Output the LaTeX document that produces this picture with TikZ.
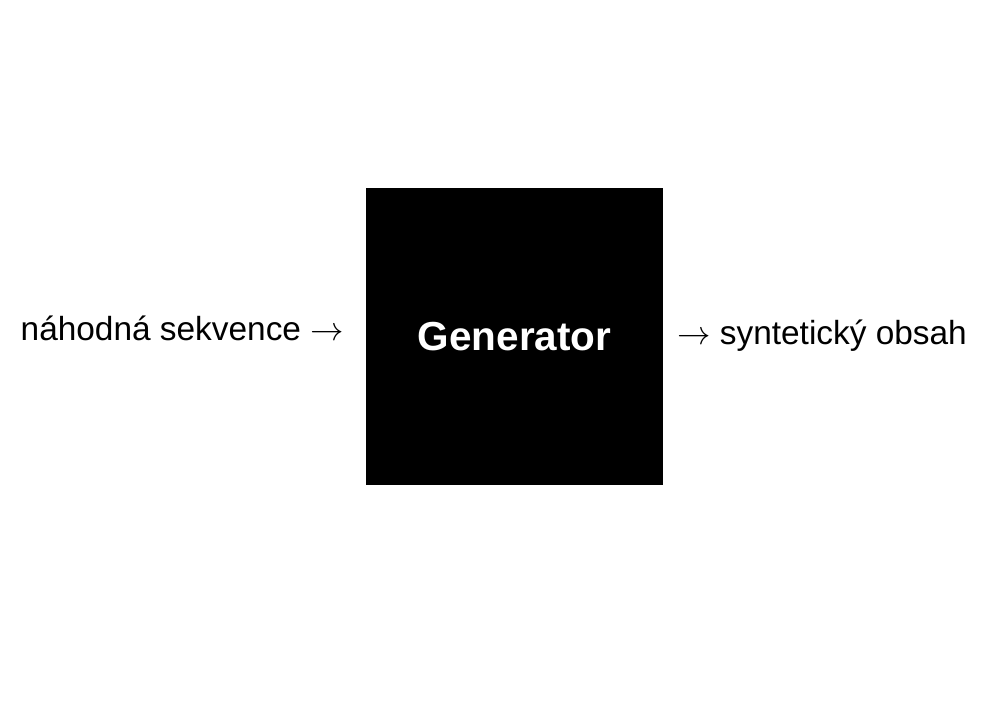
\RequirePackage{fix-cm}
\documentclass[tikz,border=0pt]{standalone}
\usepackage{fontspec}
\setmainfont{Liberation Sans}
\usetikzlibrary{positioning}

\begin{document}
\begin{tikzpicture}[
  x=1pt, y=1pt,
  genbox/.style = {
    draw=black, fill=black,
    minimum size=\boxw,
    inner sep=0pt,
    text=white,
    font=\fontsize{40.5}{48}\selectfont\bfseries
  },
  flowtext/.style = {inner sep=0pt, font=\fontsize{33.4}{40}\selectfont}
]

% ---- constants ----
\def\boxw{296pt}      % side of the black square

\useasboundingbox (0,0) rectangle (990,720);

% ---- nodes ----
\node[genbox] (gen) at (514.5,383.5) {Generator};

\node[flowtext, anchor=base east] (noise) at (344,379)
  {náhodná sekvence $\rightarrow$};

\node[flowtext, anchor=base west] (synth) at (677,375)
  {$\rightarrow$ syntetický obsah};

\end{tikzpicture}
\end{document}
